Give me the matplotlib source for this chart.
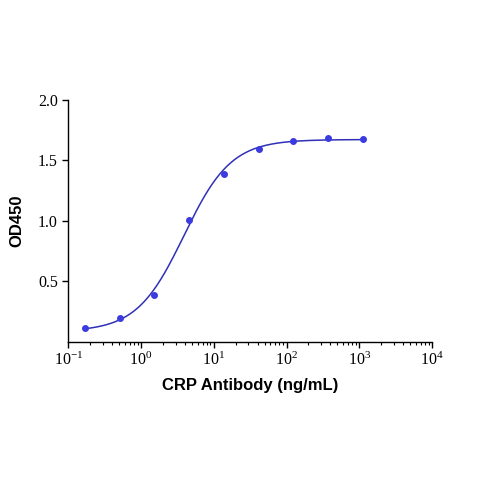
import numpy as np
import matplotlib
matplotlib.use('Agg')
import matplotlib.pyplot as plt
from matplotlib.ticker import LogLocator, FixedLocator, FuncFormatter

conc = [0.169, 0.508, 1.52, 4.57, 13.7, 41.2, 123.5, 370.4, 1111.0]
od450 = [0.11, 0.20, 0.39, 1.01, 1.39, 1.595, 1.665, 1.685, 1.675]

x_label = 'CRP Antibody (ng/mL)'
y_label = 'OD450'
y_ticks = [0.5, 1.0, 1.5, 2.0]

point_color = '#3b3be0'
line_color = '#3030b8'

plt.rcParams['mathtext.fontset'] = 'custom'
plt.rcParams['mathtext.rm'] = 'Liberation Serif'
plt.rcParams['mathtext.it'] = 'Liberation Serif'
plt.rcParams['axes.unicode_minus'] = False


def logistic4(x, bottom, top, ec50, hill):
    return bottom + (top - bottom) / (1 + (ec50 / x) ** hill)


def fit4pl(x, y):
    # grid over ec50/hill, bottom & top by linear least squares
    x = np.asarray(x)
    y = np.asarray(y)
    best = None
    for lec in np.linspace(-0.5, 2.0, 251):
        for h in np.linspace(0.5, 3.0, 251):
            s = 1 / (1 + (10 ** lec / x) ** h)
            A = np.column_stack([1 - s, s])
            coef, *_ = np.linalg.lstsq(A, y, rcond=None)
            err = np.sum((A @ coef - y) ** 2)
            if best is None or err < best[0]:
                best = (err, coef[0], coef[1], 10 ** lec, h)
    return best[1:]


def pow10(v, pos):
    e = int(round(np.log10(v)))
    return r'$\mathregular{10^{%s}}$' % ('-%d' % -e if e < 0 else str(e))


def main():
    bottom, top, ec50, hill = fit4pl(conc, od450)
    xs = np.logspace(np.log10(conc[0]), np.log10(conc[-1]), 300)

    fig = plt.figure(figsize=(4.79, 4.79), dpi=100)
    ax = fig.add_axes([0.1426, 0.2866, 0.7593, 0.5046])
    ax.plot(xs, logistic4(xs, bottom, top, ec50, hill), color=line_color, lw=1.1)
    ax.plot(conc, od450, 'o', color=point_color, ms=4)

    ax.set_xscale('log')
    ax.set_xlim(0.1, 1e4)
    ax.set_ylim(0.0, 2.0)
    ax.yaxis.set_major_locator(FixedLocator(y_ticks))
    ax.set_yticklabels(['%.1f' % v for v in y_ticks])
    ax.xaxis.set_major_locator(LogLocator(base=10, numticks=10))
    ax.xaxis.set_major_formatter(FuncFormatter(pow10))
    ax.xaxis.set_minor_locator(LogLocator(base=10, subs=np.arange(2, 10), numticks=20))

    for s in ['top', 'right']:
        ax.spines[s].set_visible(False)
    for s in ['left', 'bottom']:
        ax.spines[s].set_linewidth(1.0)
    ax.tick_params(axis='both', which='major', direction='out', length=4, width=1,
                   labelsize=11.5)
    ax.tick_params(axis='x', which='minor', direction='out', length=2.5, width=0.8)
    for lab in ax.get_xticklabels() + ax.get_yticklabels():
        lab.set_fontfamily('Liberation Serif')

    ax.set_xlabel(x_label, fontsize=12, fontweight='bold', family='Liberation Sans',
                  labelpad=6)
    ax.set_ylabel(y_label, fontsize=12, fontweight='bold', family='Liberation Sans',
                  labelpad=10)

    fig.savefig('out.png', dpi=100)


if __name__ == '__main__':
    main()
